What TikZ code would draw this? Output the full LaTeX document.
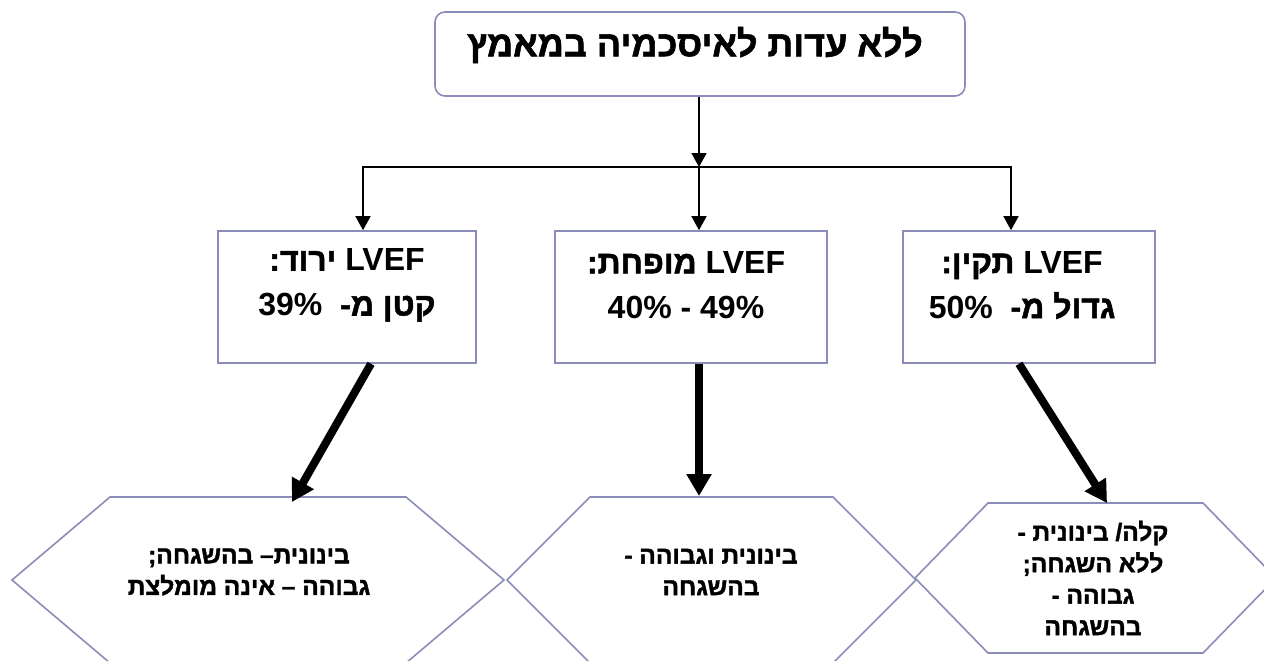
\documentclass[tikz,border=0pt]{standalone}
\usepackage{fontspec}
\setmainfont{Liberation Sans}
\newfontfamily\hebfont[Script=Hebrew,FakeBold=1.6]{Liberation Sans Bold}
\newfontfamily\latfont{Liberation Sans Bold}
\TeXXeTstate=1
\usetikzlibrary{arrows.meta}

\definecolor{frame}{RGB}{140,140,186}

\tikzset{
  box/.style={draw=frame, line width=1.6pt, minimum width=#1, minimum height=132, inner sep=0pt},
  boxtext/.style={align=center, font=\hebfont\fontsize{32}{45}\selectfont},
  lowtext/.style={align=center, font=\hebfont\fontsize{24.5}{31.5}\selectfont},
  hexline/.style={draw=frame, line width=1.6pt},
  link/.style={line width=1.6pt, -{Triangle[length=14pt,width=15pt]}},
  bigarrow/.style={line width=8pt, -{Triangle[length=22pt,width=24pt]}}
}

\begin{document}
\begin{tikzpicture}[x=1pt,y=-1pt]
\useasboundingbox (0,0) rectangle (1264,661);

% top
\node[draw=frame, line width=1.6pt, rounded corners=10pt, minimum width=530, minimum height=84, inner sep=0pt] (top) at (700,54) {};
\node[font=\hebfont\fontsize{36}{40}\selectfont] (toptxt) at (695,45) {\beginR ללא עדות לאיסכמיה במאמץ\endR};
\coordinate (fork) at (699,167);

% three boxes
\node[box=258] (boxL) at (347,297) {};
\node[box=272] (boxM) at (691,297) {};
\node[box=252] (boxR) at (1029,297) {};
\node[boxtext] (txtL) at (347,285) {\beginR{\latfont LVEF} ירוד:\endR\\ \beginR קטן מ-\ \ \beginL{\latfont 39\%}\endL\endR};
\node[boxtext] (txtM) at (686,285) {\beginR{\latfont LVEF} מופחת:\endR\\ \beginL{\latfont 40\% - 49\%}\endL};
\node[boxtext] (txtR) at (1022,285) {\beginR{\latfont LVEF} תקין:\endR\\ \beginR גדול מ-\ \ \beginL{\latfont 50\%}\endL\endR};

\draw[link] (top.south -| fork) -- (fork);
\draw[link] (fork) -| ([xshift=16]boxL.north);
\draw[link] (fork) -- (fork |- boxM.north);
\draw[link] (fork) -| ([xshift=-18]boxR.north);

% hexagons
\coordinate (hexL) at (258,580);
\coordinate (hexM) at (711,580);
\coordinate (hexR) at (1095,578);
\draw[hexline] (hexL) ++(-246,0) -- ++(98,-83) -- ++(296,0) -- ++(98,83) -- ++(-98,83) -- ++(-296,0) -- cycle;
\draw[hexline] (hexM) ++(-204,0) -- ++(83,-83) -- ++(243,0) -- ++(83,83) -- ++(-83,83) -- ++(-243,0) -- cycle;
\draw[hexline] (hexR) ++(-180,0) -- ++(73,-75) -- ++(215,0) -- ++(73,75) -- ++(-73,75) -- ++(-215,0) -- cycle;

\node[lowtext] (lowL) at (249,572) {\beginR בינונית– בהשגחה;\endR\\ \beginR גבוהה – אינה מומלצת\endR};
\node[lowtext] (lowM) at (711,572) {\beginR בינונית וגבוהה -\endR\\ \beginR בהשגחה\endR};
\node[lowtext] (lowR) at (1093,578) {\beginR קלה/ בינונית -\endR\\ \beginR ללא השגחה;\endR\\ \beginR גבוהה -\endR\\ \beginR בהשגחה\endR};

\coordinate (tipL) at (292,502);
\coordinate (tipM) at (699,496);
\coordinate (tipR) at (1107,503);
\draw[bigarrow] ([xshift=24]boxL.south) -- (tipL);
\draw[bigarrow] (boxM.south -| tipM) -- (tipM);
\draw[bigarrow] ([xshift=-10]boxR.south) -- (tipR);
\end{tikzpicture}
\end{document}
